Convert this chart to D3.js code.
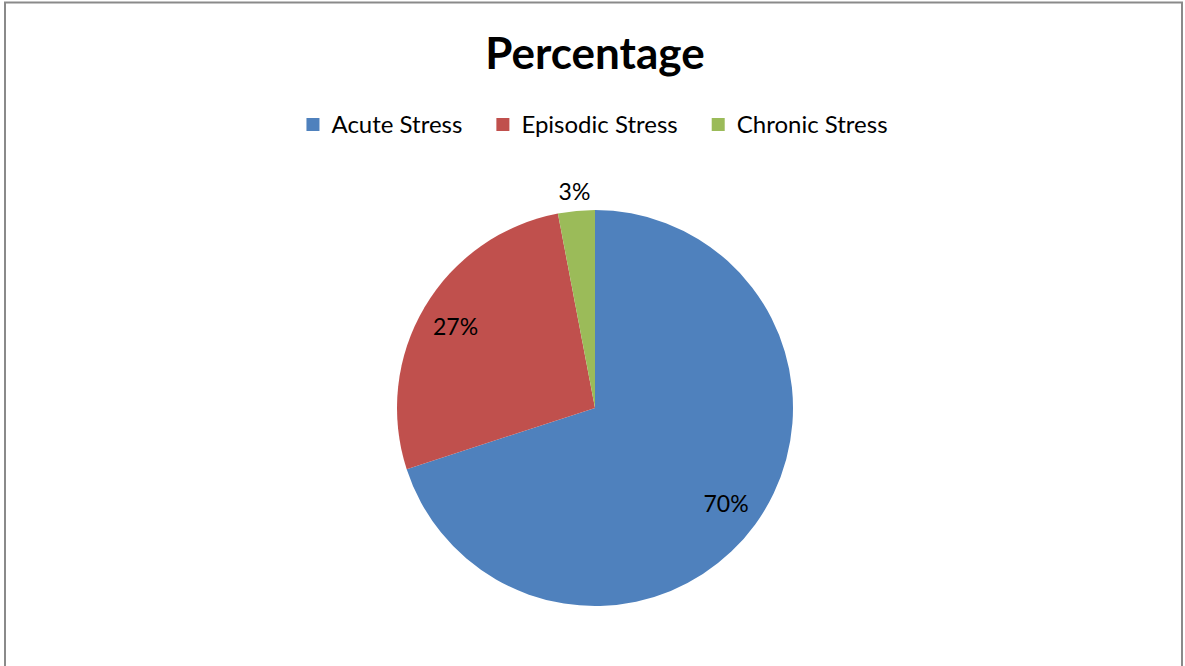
<!DOCTYPE html>
<html>
<head>
<meta charset="utf-8">
<script src="https://cdn.jsdelivr.net/npm/d3@7"></script>
<style>
  html, body { margin: 0; padding: 0; background: #fff; }
  svg { display: block; }
</style>
</head>
<body>
<svg id="chart" width="1185" height="666"></svg>
<script>
const categories = ["Acute Stress", "Episodic Stress", "Chronic Stress"];
const values = [70, 27, 3];
const labels = ["70%", "27%", "3%"];
const colors = ["#4F81BD", "#C0504D", "#9BBB59"];
const title = "Percentage";

const W = 1185, H = 666;
const svg = d3.select("#chart");
const font = "Lato, 'Open Sans', sans-serif";

// chart frame
svg.append("rect")
  .attr("x", 5).attr("y", 2.5)
  .attr("width", 1177).attr("height", H + 20)
  .attr("fill", "#fff")
  .attr("stroke", "#8a8a8a").attr("stroke-width", 2);

// title
svg.append("text")
  .attr("x", 595).attr("y", 69)
  .attr("text-anchor", "middle")
  .attr("font-family", font)
  .attr("font-weight", "bold")
  .attr("font-size", 44)
  .attr("fill", "#000")
  .text(title);

// legend
const legend = svg.append("g");
let lx = 0;
categories.forEach((c, i) => {
  const g = legend.append("g");
  g.append("rect").attr("x", 0).attr("y", -15).attr("width", 13).attr("height", 13)
    .attr("fill", colors[i]);
  const t = g.append("text").attr("x", 25).attr("y", 0)
    .attr("font-family", font).attr("font-size", 24).attr("fill", "#000").text(c);
  const w = 25 + t.node().getComputedTextLength();
  g.attr("transform", `translate(${lx},0)`);
  lx += w + 34;
});
const legendW = lx - 34;
legend.attr("transform", `translate(${595 - legendW / 2 + 2},133)`);

// pie
const cx = 595, cy = 408, r = 198;
const pie = d3.pie().sort(null).value(d => d)(values);
const arc = d3.arc().innerRadius(0).outerRadius(r);
const g = svg.append("g").attr("transform", `translate(${cx},${cy})`);
g.selectAll("path").data(pie).enter().append("path")
  .attr("d", arc)
  .attr("fill", (d, i) => colors[i]);

const inArc = d3.arc().innerRadius(162).outerRadius(162);
const outArc = d3.arc().innerRadius(218).outerRadius(218);
g.selectAll("text.lbl").data(pie).enter().append("text")
  .attr("class", "lbl")
  .attr("transform", (d, i) => {
    const p = (d.endAngle - d.startAngle) < 0.3 ? outArc.centroid(d) : inArc.centroid(d);
    return `translate(${p[0]},${p[1]})`;
  })
  .attr("text-anchor", "middle")
  .attr("dy", "0.4em")
  .attr("font-family", font)
  .attr("font-size", 23)
  .attr("fill", "#000")
  .text((d, i) => labels[i]);
</script>
</body>
</html>
